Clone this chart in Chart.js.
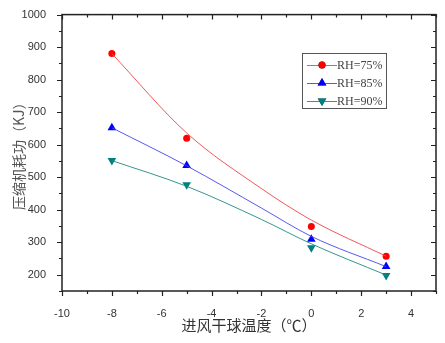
<!DOCTYPE html>
<html>
<head>
<meta charset="utf-8">
<script src="https://cdn.jsdelivr.net/npm/chart.js@4.4.1/dist/chart.umd.min.js"></script>
<style>
  body { margin: 0; background: #fff; }
  #chart { display: block; }
</style>
</head>
<body>
<canvas id="chart" width="445" height="343"></canvas>
<script>
// Measured points (x = inlet dry bulb temperature, y = compressor work)
let temps = [-8, -5, 0, 3];
let rh75 = [880, 620, 348, 257];
let rh85 = [652, 536, 309, 225];
let rh90 = [551, 477, 283, 198];

// Fitted curves
let curveTemps = [-8, -5, -2, 0, 3];
let curve75 = [880, 636, 465, 368, 257];
let curve85 = [652, 535, 405, 318, 225];
let curve90 = [551, 472, 370, 295, 199];

let seriesNames = ["RH=75%", "RH=85%", "RH=90%"];
let seriesColors = ["#ff0000", "#0000ff", "#008080"];
let lineColors = ["rgba(240,70,70,0.9)", "rgba(70,70,240,0.9)", "rgba(30,140,130,0.9)"];
let markerStyles = ["circle", "triangle", "triangle"];
let markerRotations = [0, 0, 180];

function toPoints(xs, ys)
{
    return xs.map((x, i) => ({ x: x, y: ys[i] }));
}

let pointSets = [rh75, rh85, rh90];
let curveSets = [curve75, curve85, curve90];
let datasets = [];
for (let i = 0; i < 3; i++)
{
    datasets.push({
        label: seriesNames[i] + " fit",
        data: toPoints(curveTemps, curveSets[i]),
        showLine: true,
        borderColor: lineColors[i],
        borderWidth: 1,
        pointRadius: 0,
        cubicInterpolationMode: "monotone",
        fill: false
    });
}
for (let i = 0; i < 3; i++)
{
    datasets.push({
        label: seriesNames[i],
        data: toPoints(temps, pointSets[i]),
        showLine: false,
        backgroundColor: seriesColors[i],
        borderColor: seriesColors[i],
        pointStyle: markerStyles[i],
        rotation: markerRotations[i],
        pointRadius: markerStyles[i] === "circle" ? 3.5 : 5,
        borderWidth: 0
    });
}

// Frame, major/minor ticks (mirrored inward on top and right) and the legend box
let framePlugin = {
    id: "frame",
    afterDraw(chart)
    {
        let ctx = chart.ctx;
        let area = chart.chartArea;
        let xs = chart.scales.x;
        let ys = chart.scales.y;
        ctx.save();
        ctx.strokeStyle = "#222";
        ctx.lineWidth = 1.5;
        ctx.strokeRect(area.left, area.top, area.right - area.left, area.bottom - area.top);

        ctx.lineWidth = 1.2;
        ctx.beginPath();
        for (let v = -10; v <= 5; v += 1)
        {
            let px = Math.round(xs.getPixelForValue(v)) + 0.5;
            let len = (v % 2 === 0) ? 5 : 3;
            ctx.moveTo(px, area.bottom); ctx.lineTo(px, area.bottom + len);
            ctx.moveTo(px, area.top); ctx.lineTo(px, area.top + len);
        }
        for (let v = 150; v <= 1000; v += 50)
        {
            let py = Math.round(ys.getPixelForValue(v)) + 0.5;
            let len = (v % 100 === 0) ? 5 : 3;
            ctx.moveTo(area.left, py); ctx.lineTo(area.left - len, py);
            ctx.moveTo(area.right, py); ctx.lineTo(area.right - len, py);
        }
        ctx.stroke();

        // legend
        let bx = 302, by = 53, bw = 84, bh = 55;
        ctx.lineWidth = 1;
        ctx.strokeStyle = "#555";
        ctx.strokeRect(bx + 0.5, by + 0.5, bw, bh);
        ctx.font = "12px 'Liberation Serif', serif";
        ctx.textBaseline = "middle";
        for (let i = 0; i < 3; i++)
        {
            let cy = by + 12 + i * 18;
            ctx.strokeStyle = lineColors[i];
            ctx.beginPath();
            ctx.moveTo(bx + 5, cy + 0.5); ctx.lineTo(bx + 35, cy + 0.5);
            ctx.stroke();
            Chart.helpers.drawPoint(ctx, {
                pointStyle: markerStyles[i],
                rotation: markerRotations[i],
                radius: markerStyles[i] === "circle" ? 3.5 : 5,
                borderWidth: 0
            }, bx + 20, cy);
            ctx.fillStyle = seriesColors[i];
            ctx.fill();
            ctx.fillStyle = "#444";
            ctx.fillText(seriesNames[i], bx + 35, cy + 1);
        }
        ctx.restore();
    }
};

new Chart(document.getElementById("chart"),
{
    type: "scatter",
    data: { datasets: datasets },
    options:
    {
        responsive: false,
        animation: false,
        layout: { padding: { top: 12, right: 9, left: 0, bottom: 0 } },
        plugins:
        {
            legend: { display: false },
            tooltip: { enabled: false }
        },
        scales:
        {
            x:
            {
                type: "linear",
                min: -10,
                max: 5,
                grid: { display: false },
                border: { display: false },
                ticks:
                {
                    stepSize: 2,
                    includeBounds: false,
                    padding: 8,
                    color: "#333",
                    font: { family: "'Liberation Sans', Arial", size: 11 },
                    callback: (value) => String(value)
                },
                title:
                {
                    display: true,
                    text: "进风干球温度（℃）",
                    color: "#333",
                    font: { family: "'Noto Sans CJK SC'", size: 15 },
                    padding: { top: 0, bottom: 9 }
                },
                afterFit(scale) { scale.height = 52; }
            },
            y:
            {
                type: "linear",
                min: 150,
                max: 1000,
                grid: { display: false },
                border: { display: false },
                ticks:
                {
                    stepSize: 100,
                    includeBounds: false,
                    padding: 8,
                    color: "#333",
                    font: { family: "'Liberation Sans', Arial", size: 11 },
                    callback: (value) => String(value)
                },
                title:
                {
                    display: true,
                    text: "压缩机耗功（KJ）",
                    color: "#555",
                    font: { family: "'Noto Sans CJK SC'", size: 14 },
                    padding: { top: 10, bottom: 0 }
                },
                afterFit(scale) { scale.width = 62; }
            }
        }
    },
    plugins: [framePlugin]
});
</script>
</body>
</html>
